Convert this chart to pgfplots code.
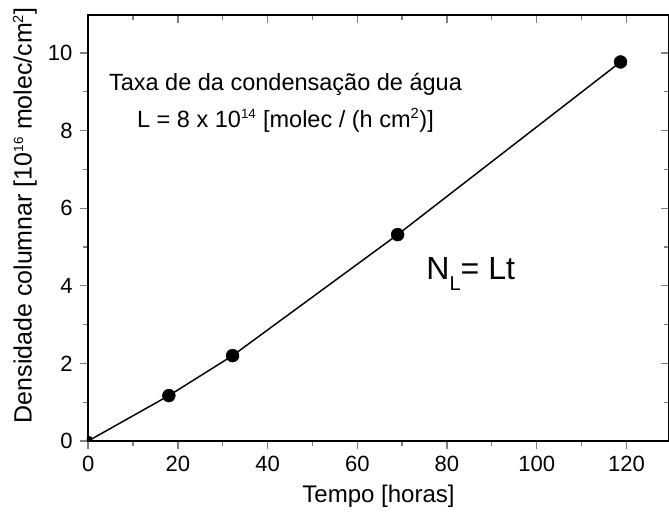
\documentclass[border=0pt]{standalone}
\usepackage{fontspec}
\setmainfont{Liberation Sans}
\usepackage{pgfplots}
\pgfplotsset{compat=1.18}

\pgfplotstableread{
t N
0 0
18 1.17
32.2 2.2
69 5.32
118.7 9.77
}\dens

\begin{document}
\fontsize{16.5}{19}\selectfont
\begin{tikzpicture}
\pgfplotsset{
  base/.style={
    scale only axis, width=435pt, height=319pt,
    xmin=0, xmax=129.5, ymin=0, ymax=10.98,
    xtick={0,20,...,120}, ytick={0,2,...,10},
    minor x tick num=1, minor y tick num=1,
    axis line style={line width=1.1pt},
    major tick style={line width=1pt},
    minor tick style={line width=1pt},
    major tick length=6pt, minor tick length=3.5pt,
    /pgf/number format/assume math mode=true,
  }
}
\begin{axis}[base,
  tick align=outside, xtick pos=bottom, ytick pos=left,
  xlabel={Tempo [horas]},
  ylabel={Densidade columnar [10\textsuperscript{\fontsize{10}{10}\selectfont 16} molec/cm\textsuperscript{\fontsize{11}{11}\selectfont 2}]},
  xlabel style={font=\fontsize{18}{21}\selectfont, at={(axis description cs:0.5,-0.13)}, anchor=center},
  ylabel style={font=\fontsize{18.7}{21}\selectfont, at={(axis description cs:-0.109,0.53)}, anchor=center},
]
\addplot[black, line width=1.1pt, mark=none] table[x=t, y=N] {\dens};
\addplot[black, only marks, mark=*, mark size=4.8pt, skip coords between index={0}{1}] table[x=t, y=N] {\dens};
\addplot[black, only marks, mark=*, mark size=2pt] coordinates {(0.3,0.05)};
\node[align=center, font=\fontsize{17.6}{27.5}\selectfont] at (axis cs:44,8.72)
  {Taxa de da condensação de água\\
   L = 8 x 10\textsuperscript{\fontsize{10}{10}\selectfont 14} [molec / (h cm\textsuperscript{\fontsize{11}{11}\selectfont 2})]};
\node[font=\fontsize{24}{28}\selectfont] at (axis cs:85.3,4.3)
  {N\raisebox{-8pt}{\fontsize{15}{15}\selectfont L}= Lt};
\coordinate (sw) at (rel axis cs:0,0);
\coordinate (ne) at (rel axis cs:1,1);
\end{axis}
\begin{axis}[base,
  tick align=inside, xtick pos=top, ytick pos=right,
  xticklabels={}, yticklabels={},
]
\end{axis}
\pgfresetboundingbox
\path ([shift={(-66pt,-54.75pt)}]sw) rectangle ([shift={(0pt,11.25pt)}]ne);
\end{tikzpicture}
\end{document}
